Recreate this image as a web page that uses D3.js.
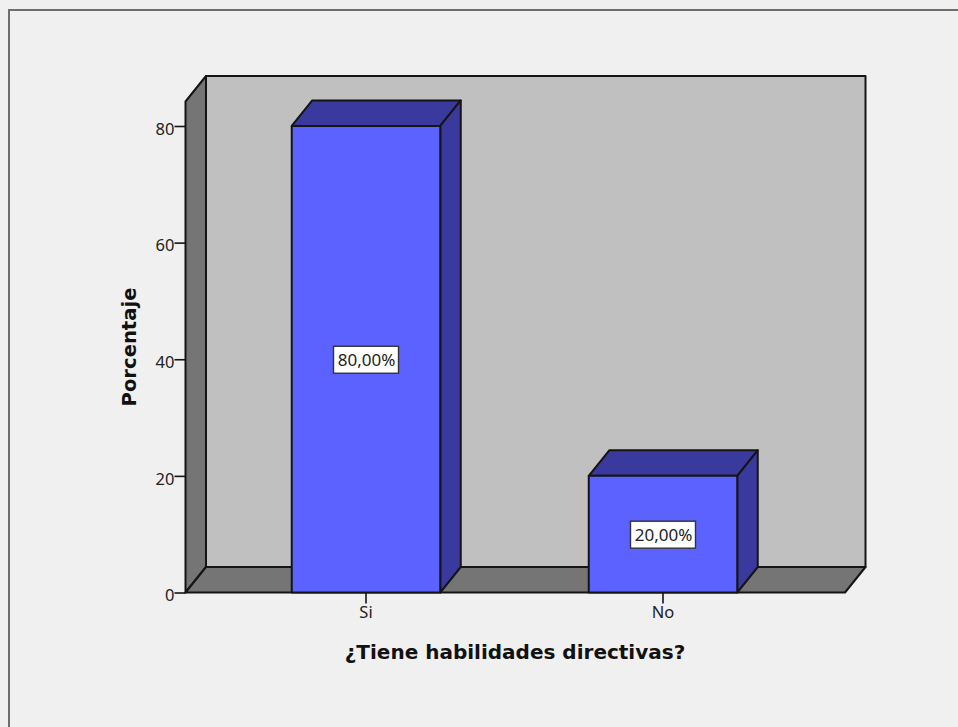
<!DOCTYPE html>
<html><head><meta charset="utf-8">
<script src="https://cdn.jsdelivr.net/npm/d3@7/dist/d3.min.js"></script>
<style>html,body{margin:0;padding:0;background:#f0f0f0;overflow:hidden}svg{display:block}</style>
</head><body><svg id="c" width="958" height="727"></svg>
<script>
const categories = ["Si", "No"];
const percentages = [80, 20];
const valueLabels = ["80,00%", "20,00%"];
const yTicks = [0, 20, 40, 60, 80];
const xTitle = "¿Tiene habilidades directivas?";
const yTitle = "Porcentaje";

const svg = d3.select("#c");
const ink = "#141414";
const L = 185.5, R = 845, B = 592.5, T = 101.5, dx = 20.5, dy = 25.5;
const y = d3.scaleLinear().domain([0, 84.2]).range([B, T]);
const x = d3.scaleBand().domain(categories).range([217.5, 811.5]).paddingInner(0.5).paddingOuter(0.25);
const poly = (pts, fill) => svg.append("polygon").attr("points", pts.map(p => p.join(",")).join(" "))
  .attr("fill", fill).attr("stroke", ink).attr("stroke-width", 2).attr("stroke-linejoin", "round");

// outer frame
svg.append("path").attr("d", "M9,727V10H958").attr("fill", "none").attr("stroke", "#6e6e6e").attr("stroke-width", 2);

// walls
poly([[L + dx, T - dy], [R + dx, T - dy], [R + dx, B - dy], [L + dx, B - dy]], "#c0c0c0");
poly([[L, T], [L + dx, T - dy], [L + dx, B - dy], [L, B]], "#757575");
poly([[L, B], [L + dx, B - dy], [R + dx, B - dy], [R, B]], "#757575");

// bars
categories.forEach((c, i) => {
  const x0 = x(c), x1 = x0 + x.bandwidth(), yv = y(percentages[i]);
  poly([[x0, yv], [x0 + dx, yv - dy], [x1 + dx, yv - dy], [x1, yv]], "#3a3a9e");
  poly([[x1, yv], [x1 + dx, yv - dy], [x1 + dx, B - dy], [x1, B]], "#3a3a9e");
  poly([[x0, yv], [x1, yv], [x1, B], [x0, B]], "#5b62ff");
  const cx = x0 + x.bandwidth() / 2, cy = y(percentages[i] / 2);
  svg.append("rect").attr("x", cx - 32.5).attr("y", cy - 13).attr("width", 65).attr("height", 27)
    .attr("fill", "#fff").attr("stroke", "#333").attr("stroke-width", 1.4);
  svg.append("text").attr("x", cx + 0.5).attr("y", cy + 6.5).attr("text-anchor", "middle")
    .attr("font-family", "'Noto Sans','Open Sans',sans-serif").attr("font-size", 17).attr("fill", "#222")
    .text(valueLabels[i]);
});

// axes
const yAxis = d3.axisLeft(y).tickValues(yTicks).tickSize(11).tickPadding(0).tickFormat(d3.format("d"));
const gy = svg.append("g").attr("transform", `translate(${L},0)`).call(yAxis);
gy.select(".domain").remove();
gy.selectAll("text").attr("dy", "0.5em");
const xAxis = d3.axisBottom(x).tickSize(11).tickPadding(3);
const gx = svg.append("g").attr("transform", `translate(0,${B})`).call(xAxis);
gx.select(".domain").remove();
[gy, gx].forEach(g => {
  g.selectAll("line").attr("stroke", ink).attr("stroke-width", 1.6);
  g.selectAll("text").attr("font-family", "'Noto Sans','Open Sans',sans-serif").attr("font-size", 16.5).attr("fill", "#222");
});

// titles
svg.append("text").attr("x", 515).attr("y", 659).attr("text-anchor", "middle")
  .attr("font-family", "'DejaVu Sans',sans-serif").attr("font-weight", "bold").attr("font-size", 20).attr("fill", "#111").text(xTitle);
svg.append("text").attr("transform", "translate(136,347) rotate(-90)").attr("text-anchor", "middle")
  .attr("font-family", "'DejaVu Sans',sans-serif").attr("font-weight", "bold").attr("font-size", 19.6).attr("fill", "#111").text(yTitle);
</script></body></html>
